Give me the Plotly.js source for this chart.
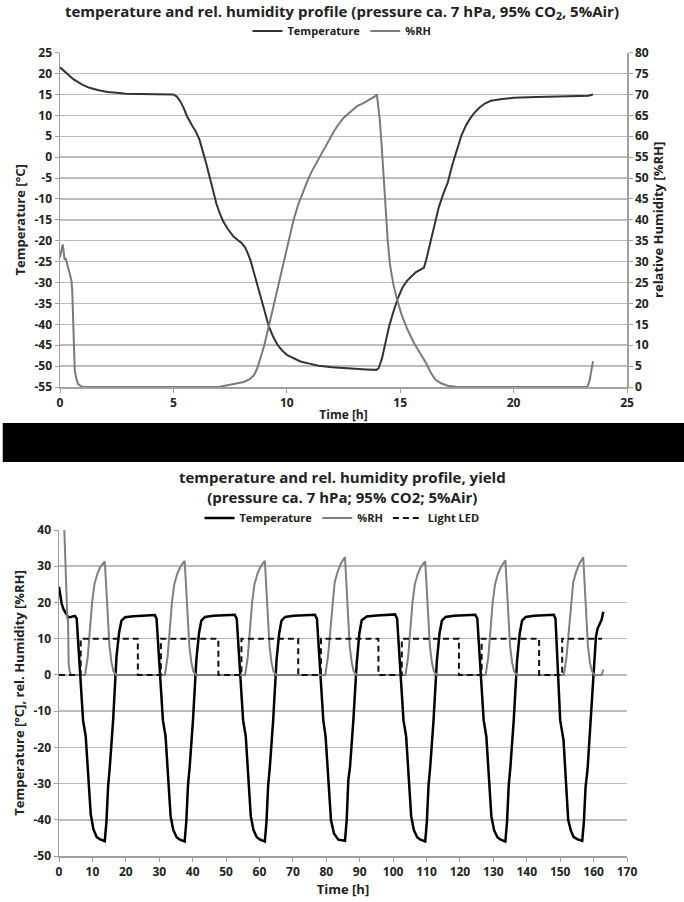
<!DOCTYPE html>
<html><head><meta charset="utf-8">
<script src="https://cdn.plot.ly/plotly-3.0.1.min.js"></script>
<style>html,body{margin:0;padding:0;background:#fff}#chart{width:684px;height:902px}</style>
</head><body><div id="chart"></div>
<script>
// ---------- Top chart data (24 h run) ----------
const topTempTime = [0,0.3,0.6,1.0,1.3,1.7,2.1,2.5,2.9,3.5,4.2,5.0,5.15,5.3,5.45,5.6,5.8,6.0,6.15,6.3,6.45,6.6,6.75,6.9,7.05,7.2,7.4,7.65,7.85,8.0,8.15,8.25,8.4,8.55,8.7,8.85,9.0,9.2,9.4,9.6,9.8,10.0,10.3,10.6,11.0,11.4,12.0,12.5,13.0,13.5,13.95,14.05,14.2,14.35,14.5,14.7,14.9,15.1,15.3,15.5,15.7,15.9,16.05,16.15,16.3,16.5,16.7,16.9,17.1,17.3,17.5,17.7,17.9,18.1,18.3,18.5,18.75,19.0,19.5,20.0,21.0,22.0,23.0,23.3,23.5];
const topTemp = [21.5,20.0,18.6,17.3,16.6,16.0,15.6,15.4,15.2,15.1,15.0,15.0,14.5,13.4,11.8,9.8,7.8,6.0,4.2,1.6,-1.6,-4.8,-8.0,-11.2,-13.5,-15.4,-17.2,-19.0,-19.9,-20.5,-21.5,-22.6,-24.7,-27.5,-30.4,-33.4,-36.4,-40.4,-43.0,-45.0,-46.3,-47.3,-48.2,-48.9,-49.4,-49.9,-50.3,-50.5,-50.7,-50.8,-50.9,-50.5,-48.1,-44.5,-40.7,-37.0,-33.7,-31.2,-29.6,-28.5,-27.5,-26.9,-26.4,-24.5,-21.0,-16.0,-12.0,-8.8,-6.0,-1.8,2.0,5.2,7.6,9.4,10.8,11.9,12.9,13.5,13.9,14.2,14.4,14.5,14.6,14.7,15.0];
const topRhTime = [0,0.07,0.12,0.16,0.2,0.25,0.3,0.37,0.42,0.46,0.5,0.54,0.57,0.6,0.65,0.72,0.8,0.95,1.1,7.0,7.4,7.8,8.1,8.35,8.55,8.7,8.85,9.0,9.15,9.3,9.5,9.7,9.9,10.1,10.3,10.5,10.7,10.9,11.1,11.3,11.5,11.7,11.9,12.1,12.3,12.5,12.8,13.1,13.4,13.7,13.9,13.97,14.1,14.18,14.25,14.33,14.45,14.55,14.7,14.85,15.05,15.3,15.6,15.9,16.15,16.35,16.55,16.8,17.1,17.5,23.25,23.35,23.5];
const topRh = [31,33.3,34.1,32.5,30.5,30.8,29.8,28.5,27.2,26.2,25.6,23,17,9,4,2,0.7,0.1,0,0,0.4,0.9,1.2,1.8,2.8,4.5,7.0,9.8,13.2,16.8,21.6,26.2,31.0,35.6,40.0,43.6,46.6,49.2,51.6,53.6,55.4,57.3,59.6,61.4,63.0,64.4,65.8,67.2,68.0,68.9,69.6,70.0,64.0,58.0,52.0,44.0,35.0,29.3,24.5,21.2,17.5,14.0,10.6,7.9,5.6,3.4,1.8,0.9,0.3,0,0,1.5,6.2];
const topXTicks = [0,5,10,15,20,25];
const topYTicks = [-55,-50,-45,-40,-35,-30,-25,-20,-15,-10,-5,0,5,10,15,20,25];
const topYLabels = ['-55','-50','-45','-40','-35','-30','-25','-20','-15','-10','-5','0','5','10','15','20','25'];
const topY2Ticks = [0,5,10,15,20,25,30,35,40,45,50,55,60,65,70,75,80];

// ---------- Bottom chart data (cycling run) ----------
const botTime = [0,0.4,0.8,1.3,1.8,2.3,2.8,3.5,4.2,4.8,
 5.3,5.6,6.0,6.6,7.2,8.0,8.7,9.5,10.3,11.3,12.3,13.7,14.2,14.7,15.2,16.2,17.2,18.0,18.7,19.8,22.3,28.7,
 29.2,29.5,29.9,30.5,31.1,31.9,32.6,33.4,34.2,35.2,36.2,37.6,38.1,38.6,39.1,40.1,41.1,41.9,42.6,43.7,46.2,52.6,
 53.2,53.5,53.9,54.5,55.1,55.9,56.6,57.4,58.2,59.2,60.2,61.6,62.1,62.6,63.1,64.1,65.1,65.9,66.6,67.7,70.2,76.6,
 77.2,77.5,77.9,78.6,79.1,79.8,80.6,81.4,82.3,83.6,85.6,86.1,86.6,87.1,88.1,89.1,89.9,90.6,92.1,95.1,100.6,
 101.2,101.5,101.9,102.5,103.1,103.9,104.6,105.4,106.2,107.2,108.2,109.6,110.1,110.6,111.1,112.1,113.1,113.9,114.6,115.7,118.2,124.6,
 125.2,125.5,125.9,126.5,127.1,127.9,128.6,129.4,130.2,131.2,132.2,133.6,134.1,134.6,135.1,136.1,137.1,137.9,138.6,139.7,142.2,148.1,
 148.6,148.9,149.3,150.0,151.0,151.8,152.4,153.2,154.0,155.2,156.6,157.1,157.6,158.2,159.1,159.9,160.7,161.2,161.8,162.4,162.9];
const botTemp = [24.3,21.5,19.7,18.2,17.4,16.3,15.9,16.0,16.2,16.3,
 15.5,11,5.5,-3.5,-12.5,-17,-27.5,-38.5,-42.6,-44.8,-45.4,-45.9,-40.5,-30.8,-25.5,-12.5,5,11.8,15,15.9,16.2,16.5,
 15.5,11,5,-4,-12.5,-17,-28,-39,-42.8,-44.8,-45.5,-46,-40.5,-30.5,-25.5,-12.5,4,11.5,15,16,16.3,16.6,
 15.5,11,5,-4,-12.5,-17,-28,-39,-42.8,-44.8,-45.5,-46,-40.5,-30.5,-25.5,-12.5,4,11.5,15,16,16.3,16.6,
 15.5,11,4.1,-5.1,-12.5,-17.1,-29,-40.1,-43.8,-45.5,-45.8,-40.1,-29,-25.4,-12.5,3.2,11.5,15.1,16.1,16.4,16.7,
 15.5,11,5,-4,-12.5,-17,-28,-39,-42.8,-44.8,-45.5,-46,-40.5,-30.5,-25.5,-12.5,4,11.5,15,16,16.3,16.6,
 15.5,11,5,-4,-12.5,-17,-28,-39,-42.8,-44.8,-45.5,-46,-40.5,-30.5,-25.5,-12.5,4,11.5,15,16,16.3,16.6,
 15.5,10,0.5,-12.5,-18,-29,-40,-43,-44.7,-45.4,-45.8,-40.5,-31,-26,-13,0.4,10.5,12.8,13.8,15.2,17.4];

const botRhTime = [0.6,1.0,1.4,1.8,2.1,2.3,2.5,2.7,2.8,2.9,3.2,3.6,
 7.8,8.6,9.3,9.9,10.6,11.5,12.5,13.7,14.1,14.6,15.1,15.7,16.3,17.1,
 31.7,32.5,33.2,33.8,34.5,35.4,36.4,37.6,38.0,38.5,39.0,39.6,40.2,41.0,
 55.7,56.5,57.2,57.8,58.5,59.4,60.4,61.6,62.0,62.5,63.0,63.6,64.2,65.0,
 79.7,80.5,81.2,81.8,82.5,83.4,84.4,85.6,86.0,86.5,87.0,87.6,88.2,89.0,
 103.7,104.5,105.2,105.8,106.5,107.4,108.4,109.6,110.0,110.5,111.0,111.6,112.2,113.0,
 127.7,128.5,129.2,129.8,130.5,131.4,132.4,133.6,134.0,134.5,135.0,135.6,136.2,137.0,
 151.1,151.9,152.6,153.2,153.9,154.8,155.8,156.9,157.3,157.8,158.3,158.9,159.5,160.3,162.4,162.9];
const botRh = [46,52,45,34,24,17,15.5,15,8,3,1,0,
 0,5,13,20,25,28,30,31.3,25,15,8,3.5,1,0,
 0,5,13,20,25,28,30,31.5,25,15,8,3.5,1,0,
 0,5,13,20,25,28,30,31.5,25,15,8,3.5,1,0,
 0,5,13,20,25.5,28.5,30.8,32.5,25,15,8,3.5,1,0,
 0,5,13,20,25,28,30,31.3,25,15,8,3.5,1,0,
 0,5,13,20,25,28,30,31.6,25,15,8,3.5,1,0,
 0,5,13,20,25.5,28.5,30.8,32.5,25,15,8,3.5,1,0,0,1.5];

const ledTime = [0,6.5,6.5,23.6,23.6,30.5,30.5,47.7,47.7,54.6,54.6,71.6,71.6,78.4,78.4,95.6,95.6,102.6,102.6,119.7,119.7,126.5,126.5,143.7,143.7,150.6,150.6,162.5];
const ledVal  = [0,0,10,10,0,0,10,10,0,0,10,10,0,0,10,10,0,0,10,10,0,0,10,10,0,0,10,10];

const botXTicks = [0,10,20,30,40,50,60,70,80,90,100,110,120,130,140,150,160,170];
const botYTicks = [-50,-40,-30,-20,-10,0,10,20,30,40];
const botYLabels = ['-50','-40','-30','-20','-10','0','10','20','30','40'];

// ---------- Layout helpers ----------
const W = 684, H = 902;
const px = v => v / W;
const py = v => 1 - v / H;
const FONT = 'Open Sans, sans-serif';
const GRID = '#bcbcbc';
const AXL = '#a0a0a0';

const traces = [
  {x: topTempTime, y: topTemp, type:'scatter', mode:'lines', name:'Temperature', xaxis:'x', yaxis:'y',
   line:{color:'#333333', width:2}, legend:'legend'},
  {x: topRhTime, y: topRh, type:'scatter', mode:'lines', name:'%RH', xaxis:'x', yaxis:'y2',
   line:{color:'#7a7a7a', width:2}, legend:'legend'},
  {x: botTime, y: botTemp, type:'scatter', mode:'lines', name:'Temperature', xaxis:'x3', yaxis:'y3',
   line:{color:'#000000', width:2.5}, legend:'legend2'},
  {x: botRhTime, y: botRh, type:'scatter', mode:'lines', name:'%RH', xaxis:'x3', yaxis:'y3',
   line:{color:'#808080', width:2}, legend:'legend2'},
  {x: ledTime, y: ledVal, type:'scatter', mode:'lines', name:'Light LED', xaxis:'x3', yaxis:'y3',
   line:{color:'#111111', width:2, dash:'6px,4px'}, legend:'legend2'}
];

const axBase = {showline:true, linecolor:AXL, linewidth:1.5, ticks:'outside', ticklen:4, tickcolor:AXL,
  showgrid:false, zeroline:false, fixedrange:true, automargin:false};

const layout = {
  width: W, height: H,
  margin:{l:0,r:0,t:0,b:0},
  paper_bgcolor:'#ffffff', plot_bgcolor:'#ffffff',
  font:{family:FONT, size:12, color:'#222222', weight:'bold'},
  title:{text:'temperature and rel. humidity profile (pressure ca. 7 hPa, 95% CO<sub>2</sub>, 5%Air)',
    font:{family:FONT, size:15, weight:'bold', color:'#222'}, x:0.5, xanchor:'center', y:py(12), yanchor:'middle', yref:'paper'},
  showlegend:true,
  legend:{orientation:'h', x:0.5, xanchor:'center', y:py(31), yanchor:'middle', font:{size:11}, itemwidth:30, bgcolor:'rgba(0,0,0,0)'},
  legend2:{orientation:'h', x:0.5, xanchor:'center', y:py(518), yanchor:'middle', font:{size:11}, itemwidth:30, bgcolor:'rgba(0,0,0,0)'},
  xaxis: Object.assign({}, axBase, {domain:[px(60), px(627)], anchor:'y', range:[0,25], tickmode:'array', tickvals:topXTicks,
    title:{text:'Time [h]', standoff:0, font:{size:12}}}),
  yaxis: Object.assign({}, axBase, {domain:[py(387), py(52.7)], anchor:'x', range:[-55,25], tickmode:'array', tickvals:topYTicks, ticktext:topYLabels,
    showgrid:true, gridcolor:GRID, gridwidth:1.5, title:{text:'Temperature [°C]', standoff:6, font:{size:13}}}),
  yaxis2: Object.assign({}, axBase, {overlaying:'y', side:'right', anchor:'x', range:[0,80], tickmode:'array', tickvals:topY2Ticks,
    title:{text:'relative Humidity [%RH]', standoff:4, font:{size:13}}}),
  xaxis3: Object.assign({}, axBase, {domain:[px(59), px(627)], anchor:'y3', range:[0,170], tickmode:'array', tickvals:botXTicks,
    title:{text:'Time [h]', standoff:4, font:{size:13}}}),
  yaxis3: Object.assign({}, axBase, {domain:[py(856), py(530)], anchor:'x3', range:[-50,40], tickmode:'array', tickvals:botYTicks, ticktext:botYLabels,
    showgrid:true, gridcolor:GRID, gridwidth:1.5, title:{text:'Temperature [°C], rel. Humidity [%RH]', standoff:6, font:{size:13}}}),
  shapes:[
    {type:'rect', xref:'paper', yref:'paper', x0:0.004, x1:1, y0:py(462), y1:py(423), fillcolor:'#000', line:{width:0}, layer:'above'}
  ],
  annotations:[
    {text:'temperature and rel. humidity profile, yield<br>(pressure ca. 7 hPa; 95% CO2; 5%Air)', xref:'paper', yref:'paper',
     x:0.5, y:py(487), xanchor:'center', yanchor:'middle', showarrow:false, font:{family:FONT, size:15, weight:'bold', color:'#222'}}
  ]
};

Plotly.newPlot('chart', traces, layout, {staticPlot:true, displayModeBar:false});
</script></body></html>
